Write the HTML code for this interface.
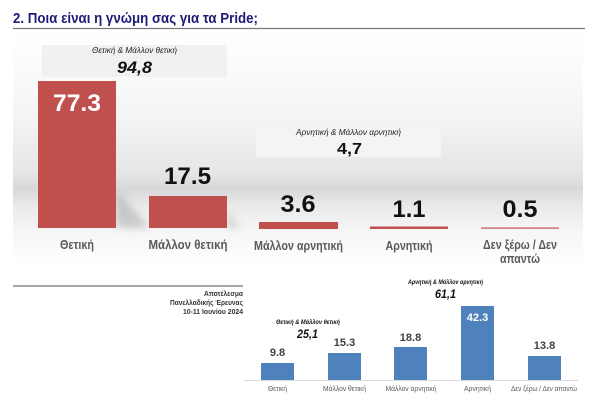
<!DOCTYPE html>
<html><head><meta charset="utf-8"><style>
html,body{margin:0;padding:0;background:#fff;}
svg{display:block;}
text{font-family:"Liberation Sans","DejaVu Sans",sans-serif;}
</style></head><body>
<svg width="600" height="402" viewBox="0 0 600 402" xmlns="http://www.w3.org/2000/svg">
<defs>
<linearGradient id="bg" x1="0" y1="0" x2="0" y2="1" gradientUnits="userSpaceOnUse" x1-="0">
</linearGradient>
<linearGradient id="panel" x1="0" y1="32" x2="0" y2="266" gradientUnits="userSpaceOnUse">
<stop offset="0" stop-color="#ffffff"/>
<stop offset="0.35" stop-color="#f5f5f5"/>
<stop offset="0.6" stop-color="#e6e6e6"/>
<stop offset="0.67" stop-color="#d8d8d8"/>
<stop offset="0.74" stop-color="#e9e9e9"/>
<stop offset="0.85" stop-color="#f6f6f6"/>
<stop offset="1" stop-color="#ffffff"/>
</linearGradient>
<filter id="blur" x="-50%" y="-50%" width="200%" height="200%"><feGaussianBlur stdDeviation="4"/></filter>
</defs>
<rect width="600" height="402" fill="#fff"/>
<!-- panel -->
<rect x="13" y="32" width="570" height="234" fill="url(#panel)"/>
<!-- title -->
<text x="13" y="23" font-size="15" font-weight="bold" fill="#1c1c78" textLength="245" lengthAdjust="spacingAndGlyphs">2. Ποια είναι η γνώμη σας για τα Pride;</text>
<line x1="13" y1="28.5" x2="585" y2="28.5" stroke="#7a7a7a" stroke-width="1.2"/>

<!-- shadows -->
<polygon points="116,190 150,228 116,228" fill="#9a9a9a" opacity="0.45" filter="url(#blur)"/>
<polygon points="227,212 240,228 227,228" fill="#9a9a9a" opacity="0.35" filter="url(#blur)"/>

<!-- box 1 -->
<rect x="42" y="45" width="185" height="32" fill="#f1f1f1"/>
<text x="134.5" y="53" font-size="8" font-style="italic" text-anchor="middle" fill="#222" textLength="85" lengthAdjust="spacingAndGlyphs">Θετική &amp; Μάλλον θετική</text>
<text x="134.5" y="73" font-size="17" font-weight="bold" font-style="italic" text-anchor="middle" fill="#111" textLength="35" lengthAdjust="spacingAndGlyphs">94,8</text>

<!-- box 2 -->
<rect x="256" y="125" width="185" height="32" fill="#f4f4f4"/>
<text x="348.5" y="135" font-size="8" font-style="italic" text-anchor="middle" fill="#222" textLength="105" lengthAdjust="spacingAndGlyphs">Αρνητική &amp; Μάλλον αρνητική</text>
<text x="349.5" y="154" font-size="16" font-weight="bold" text-anchor="middle" fill="#111" textLength="25" lengthAdjust="spacingAndGlyphs">4,7</text>

<!-- red bars -->
<rect x="38" y="81" width="78" height="147" fill="#c0504d"/>
<rect x="149" y="196" width="78" height="32" fill="#c0504d"/>
<rect x="259" y="222" width="79" height="7" fill="#c0504d"/>
<rect x="370" y="226.5" width="78" height="2.5" fill="#c0504d"/>
<rect x="481" y="227.5" width="78" height="1.2" fill="#c0504d"/>

<!-- values -->
<text x="77" y="111" font-size="24" font-weight="bold" fill="#fff" text-anchor="middle" textLength="48" lengthAdjust="spacingAndGlyphs">77.3</text>
<text x="187.5" y="184" font-size="24" font-weight="bold" fill="#111" text-anchor="middle" textLength="47" lengthAdjust="spacingAndGlyphs">17.5</text>
<text x="298" y="212" font-size="24" font-weight="bold" fill="#111" text-anchor="middle" textLength="35" lengthAdjust="spacingAndGlyphs">3.6</text>
<text x="409" y="217" font-size="24" font-weight="bold" fill="#111" text-anchor="middle" textLength="33" lengthAdjust="spacingAndGlyphs">1.1</text>
<text x="520" y="217" font-size="24" font-weight="bold" fill="#111" text-anchor="middle" textLength="35" lengthAdjust="spacingAndGlyphs">0.5</text>

<!-- categories -->
<g font-size="12.5" font-weight="bold" fill="#5a5a5a" text-anchor="middle">
<text x="77" y="249" textLength="34" lengthAdjust="spacingAndGlyphs">Θετική</text>
<text x="188" y="249" textLength="79" lengthAdjust="spacingAndGlyphs">Μάλλον θετική</text>
<text x="298.5" y="250" textLength="89" lengthAdjust="spacingAndGlyphs">Μάλλον αρνητική</text>
<text x="409" y="250" textLength="47" lengthAdjust="spacingAndGlyphs">Αρνητική</text>
<text x="520" y="249" textLength="74" lengthAdjust="spacingAndGlyphs">Δεν ξέρω / Δεν</text>
<text x="520" y="263" textLength="40" lengthAdjust="spacingAndGlyphs">απαντώ</text>
</g>

<!-- bottom section -->
<line x1="13" y1="286" x2="243" y2="286" stroke="#8a8a8a" stroke-width="1.5"/>
<g font-size="7.5" font-weight="bold" fill="#333" text-anchor="end">
<text x="243" y="296" textLength="39" lengthAdjust="spacingAndGlyphs">Αποτέλεσμα</text>
<text x="243" y="305" textLength="73" lengthAdjust="spacingAndGlyphs">Πανελλαδικής Έρευνας</text>
<text x="243" y="314" textLength="60" lengthAdjust="spacingAndGlyphs">10-11 Ιουνίου 2024</text>
</g>

<line x1="244" y1="380.5" x2="578" y2="380.5" stroke="#d9d9d9" stroke-width="1"/>
<g fill="#4f81bd">
<rect x="261" y="363" width="33" height="17"/>
<rect x="328" y="353" width="33" height="27"/>
<rect x="394" y="347" width="33" height="33"/>
<rect x="461" y="306" width="33" height="74"/>
<rect x="528" y="356" width="33" height="24"/>
</g>
<g font-size="11" font-weight="bold" fill="#404040" text-anchor="middle">
<text x="277.5" y="356">9.8</text>
<text x="344.5" y="346">15.3</text>
<text x="410.5" y="341">18.8</text>
<text x="477.5" y="321" fill="#fff">42.3</text>
<text x="544.5" y="349">13.8</text>
</g>
<g font-size="7" fill="#595959" text-anchor="middle">
<text x="277.5" y="391" textLength="19" lengthAdjust="spacingAndGlyphs">Θετική</text>
<text x="344.5" y="391" textLength="43" lengthAdjust="spacingAndGlyphs">Μάλλον θετική</text>
<text x="411" y="391" textLength="51" lengthAdjust="spacingAndGlyphs">Μάλλον αρνητική</text>
<text x="477.5" y="391" textLength="27" lengthAdjust="spacingAndGlyphs">Αρνητική</text>
<text x="544" y="391" textLength="66" lengthAdjust="spacingAndGlyphs">Δεν ξέρω / Δεν απαντώ</text>
</g>
<g font-style="italic" fill="#111" text-anchor="middle">
<text x="308" y="324" font-size="6.5" font-weight="bold" textLength="64" lengthAdjust="spacingAndGlyphs">Θετική &amp; Μάλλον θετική</text>
<text x="307.5" y="338" font-size="12" font-weight="bold" textLength="21" lengthAdjust="spacingAndGlyphs">25,1</text>
<text x="445.5" y="284" font-size="6.5" font-weight="bold" textLength="75" lengthAdjust="spacingAndGlyphs">Αρνητική &amp; Μάλλον αρνητική</text>
<text x="445.5" y="298" font-size="12" font-weight="bold" textLength="21" lengthAdjust="spacingAndGlyphs">61,1</text>
</g>
</svg>
</body></html>
